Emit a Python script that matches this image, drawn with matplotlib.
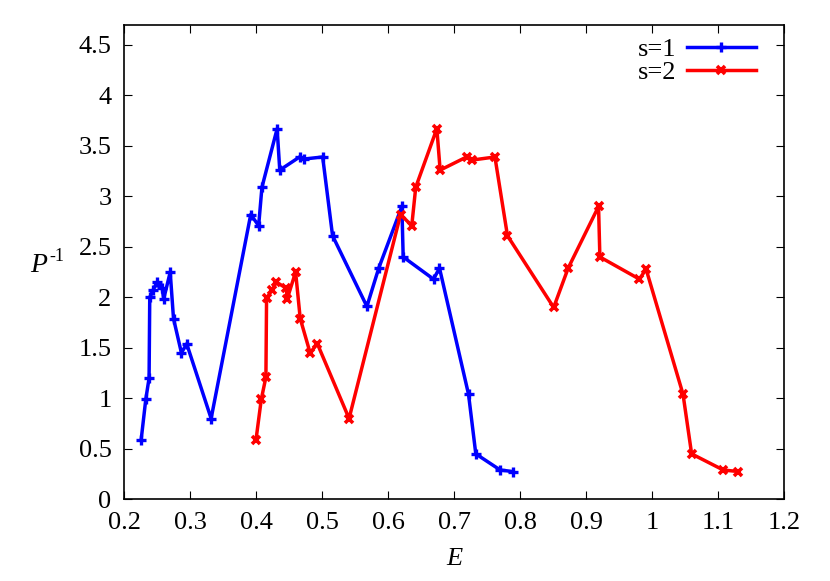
import matplotlib
matplotlib.use("Agg")
import matplotlib.pyplot as plt

plt.rcParams['font.family'] = ['Liberation Serif', 'DejaVu Serif']

# s=1 series
e1 = [0.226, 0.233, 0.238, 0.239, 0.244, 0.250, 0.258, 0.260, 0.270, 0.275,
      0.287, 0.295, 0.332, 0.392, 0.404, 0.409, 0.432, 0.436, 0.466, 0.473,
      0.501, 0.516, 0.568, 0.586, 0.621, 0.623, 0.669, 0.678, 0.722, 0.733,
      0.770, 0.789]
p1 = [0.59, 0.99, 1.20, 2.00, 2.07, 2.15, 2.09, 1.98, 2.25, 1.79,
      1.45, 1.54, 0.80, 2.82, 2.71, 3.09, 3.67, 3.26, 3.39, 3.37,
      3.39, 2.61, 1.91, 2.29, 2.90, 2.40, 2.18, 2.29, 1.04, 0.45,
      0.29, 0.275]

# s=2 series
e2 = [0.400, 0.408, 0.415, 0.416, 0.424, 0.431, 0.446, 0.447, 0.460, 0.467,
      0.482, 0.493, 0.541, 0.619, 0.636, 0.642, 0.674, 0.679, 0.719, 0.728,
      0.762, 0.781, 0.851, 0.873, 0.919, 0.921, 0.981, 0.991, 1.047, 1.060,
      1.108, 1.131]
p2 = [0.59, 0.99, 1.21, 1.99, 2.07, 2.15, 2.09, 1.98, 2.25, 1.79,
      1.45, 1.54, 0.80, 2.82, 2.71, 3.09, 3.67, 3.26, 3.39, 3.36,
      3.39, 2.61, 1.90, 2.29, 2.90, 2.40, 2.18, 2.28, 1.04, 0.45,
      0.29, 0.275]

xticks = [0.2, 0.3, 0.4, 0.5, 0.6, 0.7, 0.8, 0.9, 1.0, 1.1, 1.2]
xticklabels = ["0.2", "0.3", "0.4", "0.5", "0.6", "0.7", "0.8", "0.9", "1", "1.1", "1.2"]
yticks = [0, 0.5, 1, 1.5, 2, 2.5, 3, 3.5, 4, 4.5]
yticklabels = ["0", "0.5", "1", "1.5", "2", "2.5", "3", "3.5", "4", "4.5"]

fig = plt.figure(figsize=(8.3, 5.81), dpi=100)
ax = fig.add_axes([0.1494, 0.1406, 0.7952, 0.8169])

ax.plot(e1, p1, color='#0000ff', lw=2.5, marker='+', ms=7, mew=2.4, label='s=1')
ax.plot(e2, p2, color='#ff0000', lw=2.5, marker='x', ms=6, mew=2.6, label='s=2')

ax.set_xlim(0.2, 1.2)
ax.set_ylim(0, 4.7)
ax.set_xticks(xticks)
ax.set_xticklabels(xticklabels)
ax.set_yticks(yticks)
ax.set_yticklabels(yticklabels)
ax.tick_params(direction='in', length=6, width=0.8, top=True, right=True,
               labelsize=19, pad=9)
for sp in ax.spines.values():
    sp.set_linewidth(1.2)

ax.set_xlabel('E', fontsize=19, style='italic', labelpad=10)

# y label: italic P with upright superscript "-1"
fig.text(30 / 830, 1 - 272 / 581, 'P', fontsize=20, style='italic',
         ha='left', va='baseline')
fig.text(49 / 830, 1 - 261 / 581, '-1', fontsize=13, ha='left', va='baseline')

ax.legend(loc='upper right', frameon=False, markerfirst=False, fontsize=19,
          handlelength=2.6, handletextpad=0.4, labelspacing=0.0,
          borderaxespad=0.3, bbox_to_anchor=(0.985, 1.012))

fig.savefig('out.png', dpi=100)
